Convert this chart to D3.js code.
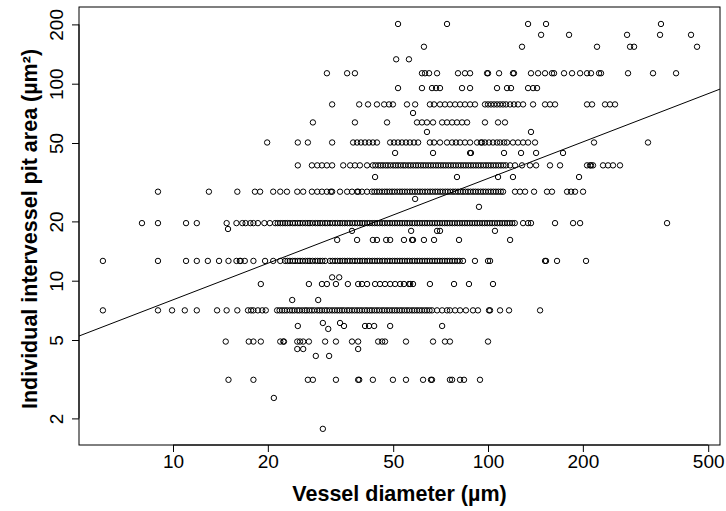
<!DOCTYPE html>
<html>
<head>
<meta charset="utf-8">
<script src="https://cdn.jsdelivr.net/npm/d3@7"></script>
<style>
    body { margin: 0; background: #fff; }
    text { font-family: "Liberation Sans", Arial, sans-serif; fill: #000; }
    .title { font-weight: bold; font-size: 21.5px; }
    .tick-label { font-size: 19px; }
    .pt { fill: none; stroke: #000; stroke-width: 1; }
</style>
</head>
<body>
<div id="chart"></div>
<script>
const WIDTH = 726;
const HEIGHT = 511;
const PLOT = { left: 79, right: 720, top: 7, bottom: 445 };
const POINT_RADIUS = 2.7;
const TICK_LENGTH = 7;

// Axis tick values
const X_TICKS = [10, 20, 50, 100, 200, 500];
const Y_TICKS = [2, 5, 10, 20, 50, 100, 200];

// Fitted line: log10(area) = FIT_INTERCEPT + FIT_SLOPE * log10(diameter)
const FIT_INTERCEPT = 0.287;
const FIT_SLOPE = 0.616;

// Vessel diameters (µm) of pits sharing one pit area (µm²)
const diam201 = [51.8, 74.1, 134, 152.8, 354];
const diam177 = [147.4, 180.8, 276.3, 351.6, 441];
const diam154 = [62.6, 128.2, 221.8, 282.4, 290.8, 460.8];
const diam133 = [51.1, 56.1];
const diam113 = [30.8, 35.7, 37.8, 61.7, 63.1, 65.0, 68.9, 80.3, 84.5, 87.7, 99.3, 100, 108.4, 120.0, 120.9,
    136.9, 144.2, 151.7, 159.6, 162.0, 174.3, 184.8, 196.0, 206.2, 212.3, 225.1, 228.4, 278.3, 334.0, 395.3];
const diam95 = [51.8, 61.7, 66.4, 68.4, 70.4, 82.7, 87.7, 106.8, 114.9, 118.3, 134.0, 139.0, 143.1];
const diam78 = [32.0, 39.0, 41.6, 44.4, 46.8, 48.5, 49.9, 55.3, 58.7, 65.4, 67.4, 70.4, 73.0, 75.7, 78.6, 81.5,
    84.5, 87.7, 90.9, 97.8, 100, 102.2, 104.5, 106.8, 109.2, 111.6, 114.1, 117.5, 120.9, 124.5, 129.2, 139.0,
    151.7, 157.3, 163.2, 206.2, 213.9, 235.2, 243.9, 253.0];
const diam71 = [57.8];
const diam64 = [27.8, 37.8, 47.8, 59.5, 61.7, 64.0, 66.9, 71.5, 74.1, 76.9, 79.7, 82.7, 85.8, 97.8, 107.6, 113.2];
const diam57 = [64.0, 136.9];
const diam50 = [19.9, 24.9, 26.8, 32.0, 37.3, 38.4, 39.5, 40.7, 41.9, 43.1, 44.4, 48.9, 50.3, 51.8, 53.3, 54.9,
    56.5, 58.2, 60.0, 65.4, 67.4, 70.4, 74.1, 76.9, 79.1, 81.5, 84.5, 87.7, 92.3, 95.0, 95.7, 97.8, 100.7,
    103.7, 106.8, 109.2, 112.4, 114.9, 120.0, 124.5, 129.2, 134.0, 141.0, 217.0, 322.0];
const diam44 = [50.7, 66.9, 87.7, 88.3, 112.4, 127.3, 142.1, 173.0];
const diam38 = [24.9, 27.6, 28.7, 29.7, 30.8, 32.0, 34.7, 36.5, 37.8, 39.2, 41.3,
    43.1, 43.9, 44.8, 45.6, 46.4, 47.3, 48.1, 49.0, 50.0, 50.9, 51.8, 52.8, 53.8, 54.7, 55.8, 56.8, 57.9,
    59.0, 60.0, 61.2, 62.3, 63.4, 64.6, 65.8, 67.0, 68.3, 69.5, 70.8, 72.1, 73.4, 74.8, 76.2, 77.6, 79.0,
    80.5, 82.0, 83.5, 85.0, 86.6, 88.2, 89.8, 91.5, 93.2, 94.9, 96.7, 98.5, 100.3, 102.1, 104.0, 105.9,
    107.9, 109.9, 111.9, 114.0,
    117.5, 121.8, 128.2, 135.9, 142.1, 157.3, 169.3, 206.2, 210.8, 212.3, 215.4, 231.8, 240.4, 249.3, 262.4];
const diam34 = [43.8, 79.7, 107.6, 120.0, 194.5];
const diam28 = [8.96, 13.0, 16.0, 18.2, 18.9, 20.8, 21.9, 23.0, 24.8, 25.9, 27.6, 28.7, 29.7, 30.8, 31.7, 32.0,
    33.9, 35.7, 37.0, 38.4, 38.7, 39.8, 41.3,
    42.8, 43.6, 44.4, 45.2, 46.1, 47.0, 47.8, 48.7, 49.6, 50.5, 51.5, 52.5, 53.4, 54.4, 55.4, 56.5, 57.5,
    58.6, 59.7, 60.8, 61.9, 63.1, 64.3, 65.5, 66.7, 68.0, 69.2, 70.5, 71.8, 73.2, 74.5, 75.9, 77.4, 78.8,
    80.3, 81.8, 83.3, 84.8, 86.4, 88.0, 89.7, 91.3, 93.0, 94.8, 96.5, 98.3, 100.2, 102.1, 104.0, 105.9,
    107.8, 109.8, 111.6,
    121.8, 126.3, 131.1, 140.0, 153.9, 159.6, 178.2, 183.5, 188.9, 200.3];
const diam26 = [58.7];
const diam24 = [93.6];
const diam20 = [7.97, 8.96, 11.0, 11.9, 14.8, 15.9, 16.6, 17.0, 17.6, 18.0, 18.6, 19.5, 20.3,
    21.1, 21.5, 21.9, 22.3, 22.7, 23.1, 23.5, 24.0, 24.4, 24.9, 25.3, 25.8, 26.3, 26.8, 27.2, 27.7, 28.3,
    28.8, 29.3, 29.8, 30.4, 30.9, 31.5, 32.1, 32.7, 33.3, 33.9, 34.5, 35.1, 35.8, 36.4, 37.1, 37.8, 38.5,
    39.2, 39.9, 40.6, 41.4, 42.1, 42.9, 43.7, 44.5, 45.3, 46.2, 47.0, 47.9, 48.8, 49.7, 50.6, 51.5, 52.5,
    53.4, 54.4, 55.4, 56.4, 57.5, 58.5, 59.6, 60.7, 61.8, 63.0, 64.1, 65.3, 66.5, 67.8, 69.0, 70.3, 71.6,
    72.9, 74.2, 75.6, 77.0, 78.4, 79.9, 81.3, 82.8, 84.4, 85.9, 87.5, 89.1, 90.8, 92.4, 94.1, 95.9, 97.6,
    99.4, 101.3, 103.1, 105.0, 107.0, 109.0, 111.0, 113.0, 115.1, 117.2, 119.4, 121.6,
    129.2, 134.0, 136.9, 163.2, 186.2, 196.0, 370.1];
const diam18a = [14.95];
const diam18b = [37.0, 57.0, 68.9, 70.4, 105.2];
const diam16 = [33.2, 38.4, 43.1, 44.4, 47.5, 48.9, 54.1, 57.4, 57.8, 62.6, 67.4, 80.9, 117.5];
const diam13 = [5.99, 8.96, 11.0, 11.9, 12.9, 14.0, 15.0, 15.9, 16.3, 16.4, 16.9, 18.0, 19.6, 20.8, 21.9,
    22.7, 23.1, 23.5, 24.0, 24.4, 24.9, 25.3, 25.8, 26.3, 26.8, 27.2, 27.7, 28.3, 28.8, 29.3, 29.8, 30.4,
    31.5, 32.1, 32.7, 33.3, 33.9, 34.5, 35.1, 35.8, 36.4, 37.1, 37.8, 38.5, 39.2, 39.9, 40.6, 41.4, 42.1,
    42.9, 43.7, 44.5, 45.3, 46.2, 47.0, 47.9, 48.8, 49.7, 50.6, 51.5, 52.5, 53.4, 54.4, 55.4, 56.4, 57.5,
    58.5, 59.6, 60.7, 61.8, 63.0, 64.1, 65.3, 66.5, 67.8, 69.0, 70.3, 71.6, 72.9, 74.2, 75.6, 77.0, 78.4,
    79.9, 81.3, 83.3,
    90.9, 100, 101.5, 151.7, 152.8, 165.6, 204.7];
const diam10 = [32.0, 33.7];
const diam9 = [19.0, 27.0, 29.7, 30.8, 32.9, 35.9, 38.7, 39.8, 41.3, 43.8, 45.4, 47.1, 48.9, 50.7, 52.6, 54.1,
    56.1, 56.6, 57.8, 65.4, 78.0, 87.0, 103.7];
const diam8 = [23.9, 28.9];
const diam7 = [5.99, 8.96, 9.93, 10.9, 11.9, 13.8, 14.8, 16.0, 17.3, 17.7, 18.0, 18.6, 19.2, 19.7,
    21.4, 21.8, 22.2, 22.6, 23.0, 23.5, 23.9, 24.3, 24.8, 25.2, 25.7, 26.2, 26.6, 27.1, 27.6, 28.1, 28.7,
    29.2, 29.7, 30.3, 30.8, 31.4, 32.0, 32.6, 33.2, 33.8, 34.4, 35.0, 35.7, 36.3, 37.0, 37.7, 38.4, 39.1,
    39.8, 40.6, 41.3, 42.1, 42.8, 43.6, 44.4, 45.2, 46.1, 46.9, 47.8, 48.7, 49.6, 50.5, 51.4, 52.4, 53.3,
    54.3, 55.3, 56.3, 57.4, 58.4, 59.5, 60.6, 61.7, 62.9, 64.0, 65.2, 66.4,
    68.9, 71.5, 74.1, 75.7, 78.6, 81.5, 85.1, 89.6, 92.9, 100.7, 101.5, 109.2, 116.6, 146.3];
const diam6a = [29.9, 33.9];
const diam6b = [24.9, 34.9, 40.7, 41.9, 43.5, 48.9, 71.5];
const diam6c = [31.1];
const diam5 = [14.7, 17.4, 18.0, 19.0, 21.9, 22.4, 22.5, 24.8, 25.3, 25.9, 27.0, 30.4, 32.9, 37.0, 38.7, 44.8,
    46.1, 47.1, 54.9, 66.9, 73.0, 75.7, 100];
const diam4a = [24.8, 25.9, 38.7];
const diam4b = [28.4, 31.3];
const diam3 = [15.0, 18.0, 26.8, 27.8, 32.9, 38.7, 39.0, 43.1, 49.9, 54.9, 62.2, 65.9, 66.4, 75.7, 76.9, 81.5,
    83.9, 94.3];
const diam2 = [20.9];
const diam1 = [29.9];

// Pit area of each row, paired with its diameters
const ROWS = [
    [201, diam201], [177, diam177], [154, diam154], [133, diam133], [113, diam113], [95, diam95],
    [78.5, diam78], [71, diam71], [63.6, diam64], [56.9, diam57], [50.3, diam50], [44.5, diam44],
    [38.5, diam38], [33.6, diam34], [28.3, diam28], [26, diam26], [23.7, diam24], [19.6, diam20],
    [18.3, diam18a], [17.9, diam18b], [16.1, diam16], [12.6, diam13], [10.4, diam10], [9.62, diam9],
    [7.98, diam8], [7.07, diam7], [6.1, diam6a], [5.89, diam6b], [5.69, diam6c], [4.91, diam5],
    [4.5, diam4a], [4.15, diam4b], [3.14, diam3], [2.54, diam2], [1.77, diam1]
];

const points = ROWS.flatMap(([area, diams]) => diams.map(d => ({ d, area })));

const x = d3.scaleLog().domain([5.03, 545]).range([PLOT.left, PLOT.right]);
const y = d3.scaleLog().domain([1.4655, 245.1]).range([PLOT.bottom, PLOT.top]);

const svg = d3.select("#chart")
    .append("svg")
    .attr("width", WIDTH)
    .attr("height", HEIGHT);

svg.append("defs").append("clipPath")
    .attr("id", "plot-clip")
    .append("rect")
    .attr("x", PLOT.left)
    .attr("y", PLOT.top)
    .attr("width", PLOT.right - PLOT.left)
    .attr("height", PLOT.bottom - PLOT.top);

// Points
svg.append("g")
    .selectAll("circle")
    .data(points)
    .enter()
    .append("circle")
    .attr("class", "pt")
    .attr("cx", p => x(p.d))
    .attr("cy", p => y(p.area))
    .attr("r", POINT_RADIUS);

// Regression line across the whole plot region
const fitLine = d3.line()
    .x(d => x(d))
    .y(d => y(Math.pow(10, FIT_INTERCEPT + FIT_SLOPE * Math.log10(d))));

svg.append("path")
    .attr("clip-path", "url(#plot-clip)")
    .attr("d", fitLine(x.domain()))
    .attr("fill", "none")
    .attr("stroke", "#000")
    .attr("stroke-width", 1);

// Box
svg.append("rect")
    .attr("x", PLOT.left)
    .attr("y", PLOT.top)
    .attr("width", PLOT.right - PLOT.left)
    .attr("height", PLOT.bottom - PLOT.top)
    .attr("fill", "none")
    .attr("stroke", "#000")
    .attr("stroke-width", 1);

// X axis
const xAxis = d3.axisBottom(x)
    .tickValues(X_TICKS)
    .tickFormat(d3.format("d"))
    .tickSizeInner(TICK_LENGTH)
    .tickSizeOuter(0)
    .tickPadding(3);

const gx = svg.append("g")
    .attr("transform", `translate(0,${PLOT.bottom})`)
    .call(xAxis);
gx.select(".domain")
    .attr("d", `M${x(X_TICKS[0])},0H${x(X_TICKS[X_TICKS.length - 1])}`);
gx.selectAll("text")
    .attr("class", "tick-label")
    .attr("font-family", null)
    .attr("font-size", null);

// Y axis, labels turned like R does
const yAxis = d3.axisLeft(y)
    .tickValues(Y_TICKS)
    .tickFormat(d3.format("d"))
    .tickSizeInner(TICK_LENGTH)
    .tickSizeOuter(0);

const gy = svg.append("g")
    .attr("transform", `translate(${PLOT.left},0)`)
    .call(yAxis);
gy.select(".domain")
    .attr("d", `M0,${y(Y_TICKS[0])}V${y(Y_TICKS[Y_TICKS.length - 1])}`);
gy.selectAll("text")
    .attr("class", "tick-label")
    .attr("font-family", null)
    .attr("font-size", null)
    .attr("x", null)
    .attr("dy", null)
    .attr("text-anchor", "middle")
    .attr("transform", "translate(-16,0) rotate(-90)");

svg.selectAll(".domain, .tick line").attr("stroke", "#000");

// Titles
svg.append("text")
    .attr("class", "title")
    .attr("x", (PLOT.left + PLOT.right) / 2)
    .attr("y", 501)
    .attr("text-anchor", "middle")
    .text("Vessel diameter (µm)");

svg.append("text")
    .attr("class", "title")
    .attr("text-anchor", "middle")
    .attr("transform", "translate(37,229) rotate(-90)")
    .text("Individual intervessel pit area (µm²)");
</script>
</body>
</html>
